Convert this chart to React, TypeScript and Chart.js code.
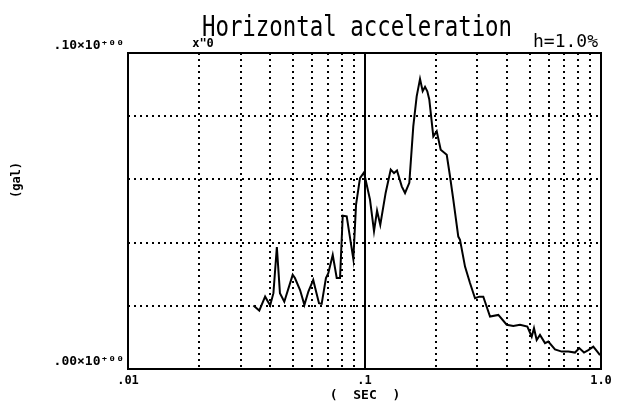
import React, { useEffect, useRef } from "react";
import { Chart, registerables } from "chart.js";

Chart.register(...registerables);

// Period (sec) and response acceleration values
const periods = [
  0.0339, 0.0359, 0.038, 0.0399, 0.0412, 0.0426, 0.0439, 0.0458, 0.0497, 0.0508,
  0.0534, 0.0557, 0.0579, 0.0607, 0.0642, 0.0659, 0.0687, 0.0703, 0.0734, 0.0763,
  0.0788, 0.0809, 0.0841, 0.0897, 0.0921, 0.0957, 0.0995, 0.1055, 0.1097, 0.113,
  0.1166, 0.1229, 0.1291, 0.1333, 0.1372, 0.1437, 0.1484, 0.1547, 0.1608, 0.1662,
  0.1717, 0.1762, 0.1803, 0.1843, 0.1879, 0.1954, 0.202, 0.21, 0.2227, 0.2299,
  0.2374, 0.2492, 0.2534, 0.2661, 0.2793, 0.2933, 0.3058, 0.3179, 0.3395, 0.368,
  0.3993, 0.4258, 0.4545, 0.4881, 0.5093, 0.5208, 0.5346, 0.5521, 0.5797, 0.5986,
  0.6389, 0.6823, 0.7274, 0.7764, 0.8096, 0.8475, 0.8837, 0.9279, 0.9647, 0.9904,
];
const accel = [
  0.0201, 0.0185, 0.0229, 0.0201, 0.024, 0.0386, 0.024, 0.0213, 0.0298, 0.0288,
  0.025, 0.0203, 0.0245, 0.0282, 0.0208, 0.0206, 0.0288, 0.0303, 0.0361, 0.0288,
  0.0288, 0.0485, 0.0483, 0.0348, 0.052, 0.0604, 0.0622, 0.0536, 0.0436, 0.0501,
  0.0456, 0.0558, 0.0631, 0.062, 0.0628, 0.0578, 0.0557, 0.0589, 0.0768, 0.0863,
  0.0918, 0.0879, 0.0893, 0.0879, 0.0853, 0.0736, 0.0752, 0.0694, 0.0678, 0.061,
  0.0536, 0.0419, 0.0409, 0.0324, 0.0272, 0.0224, 0.0229, 0.0229, 0.0166, 0.0171,
  0.014, 0.0136, 0.014, 0.0134, 0.0102, 0.0129, 0.0092, 0.0108, 0.0082, 0.0087,
  0.0062, 0.0055, 0.0055, 0.0052, 0.0066, 0.0052, 0.006, 0.0071, 0.0055, 0.0044,
];

const xTickValues = [0.01, 0.1, 1];
const xTickLabels = [".01", ".1", "1.0"];
const xMinorGrid = [0.02, 0.03, 0.04, 0.05, 0.06, 0.07, 0.08, 0.09, 0.2, 0.3, 0.4, 0.5, 0.6, 0.7, 0.8, 0.9];
const xMajorGrid = [0.1];
const yGridValues = [0.02, 0.04, 0.06, 0.08];
const yTickLabels = [".00×10⁺⁰⁰", ".10×10⁺⁰⁰"];

const titleText = "Horizontal acceleration";
const dampingText = "h=1.0%";
const scaleNoteText = 'x"0';
const xAxisTitle = "(  SEC  )";
const yAxisTitle = "(gal)";

const MONO = '"DejaVu Sans Mono", "Liberation Mono", monospace';

const decorPlugin = {
  id: "decor",
  beforeDatasetsDraw(chart: any) {
    const { ctx, chartArea: a, scales } = chart;
    const xs = scales.x;
    const ys = scales.y;
    ctx.save();
    ctx.strokeStyle = "#000";
    ctx.lineWidth = 2;
    ctx.setLineDash([2, 4]);
    xMinorGrid.forEach((v) => {
      const px = Math.round(xs.getPixelForValue(v));
      ctx.beginPath();
      ctx.moveTo(px, a.top);
      ctx.lineTo(px, a.bottom);
      ctx.stroke();
    });
    yGridValues.forEach((v) => {
      const py = Math.round(ys.getPixelForValue(v));
      ctx.beginPath();
      ctx.moveTo(a.left, py);
      ctx.lineTo(a.right, py);
      ctx.stroke();
    });
    ctx.setLineDash([]);
    xMajorGrid.forEach((v) => {
      const px = Math.round(xs.getPixelForValue(v));
      ctx.beginPath();
      ctx.moveTo(px, a.top);
      ctx.lineTo(px, a.bottom);
      ctx.stroke();
    });
    ctx.strokeRect(a.left, a.top, a.right - a.left, a.bottom - a.top);
    ctx.restore();
  },
  afterDraw(chart: any) {
    const { ctx } = chart;
    ctx.save();
    ctx.fillStyle = "#000";
    // main title (narrow typewriter look)
    ctx.save();
    ctx.font = `28px ${MONO}`;
    ctx.textAlign = "center";
    ctx.textBaseline = "alphabetic";
    ctx.translate(357, 36);
    ctx.scale(0.8, 1);
    ctx.fillText(titleText, 0, 0);
    ctx.restore();
    // damping note
    ctx.font = `18px ${MONO}`;
    ctx.textAlign = "right";
    ctx.textBaseline = "alphabetic";
    ctx.fillText(dampingText, 598, 47);
    // scale note
    ctx.font = `bold 12px ${MONO}`;
    ctx.textAlign = "center";
    ctx.textBaseline = "middle";
    ctx.fillText(scaleNoteText, 203, 44);
    // x axis title
    ctx.font = `bold 13px ${MONO}`;
    ctx.fillText(xAxisTitle, 365, 396);
    // y axis title
    ctx.save();
    ctx.translate(17, 180);
    ctx.rotate(-Math.PI / 2);
    ctx.font = `bold 12px ${MONO}`;
    ctx.fillText(yAxisTitle, 0, 0);
    ctx.restore();
    ctx.restore();
  },
};

export default function App() {
  const canvasRef = useRef<HTMLCanvasElement | null>(null);

  useEffect(() => {
    const canvas = canvasRef.current;
    if (!canvas) return;
    const chart = new Chart(canvas, {
      type: "line",
      data: {
        datasets: [
          {
            data: periods.map((p, i) => ({ x: p, y: accel[i] })),
            borderColor: "#000",
            borderWidth: 2,
            pointRadius: 0,
            tension: 0,
            fill: false,
          },
        ],
      },
      options: {
        animation: false,
        responsive: false,
        devicePixelRatio: 1,
        layout: { padding: { left: 0, right: 18, top: 53, bottom: 0 } },
        plugins: {
          legend: { display: false },
          title: { display: false },
          tooltip: { enabled: false },
        },
        scales: {
          x: {
            type: "logarithmic",
            min: 0.01,
            max: 1,
            grid: { display: false, drawTicks: false },
            border: { display: false },
            afterBuildTicks: (scale: any) => {
              scale.ticks = xTickValues.map((v) => ({ value: v }));
            },
            afterFit: (scale: any) => {
              scale.height = 40;
            },
            ticks: {
              autoSkip: false,
              maxRotation: 0,
              minRotation: 0,
              padding: 5,
              color: "#000",
              font: { family: MONO, size: 12, weight: "bold" },
              callback: (_v: any, index: number) => xTickLabels[index] ?? "",
            },
          },
          y: {
            type: "linear",
            min: 0,
            max: 0.1,
            grid: { display: false, drawTicks: false },
            border: { display: false },
            afterFit: (scale: any) => {
              scale.width = 128;
            },
            ticks: {
              stepSize: 0.02,
              padding: 4,
              labelOffset: -7,
              color: "#000",
              font: { family: MONO, size: 13, weight: "bold" },
              callback: (_v: any, index: number, ticks: any[]) =>
                index === 0 ? yTickLabels[0] : index === ticks.length - 1 ? yTickLabels[1] : "",
            },
          },
        },
      },
      plugins: [decorPlugin],
    });
    return () => chart.destroy();
  }, []);

  return (
    <div style={{ position: "absolute", left: 0, top: 0, width: 619, height: 409, background: "#fff" }}>
      <canvas ref={canvasRef} width={619} height={409} style={{ display: "block" }} />
    </div>
  );
}
